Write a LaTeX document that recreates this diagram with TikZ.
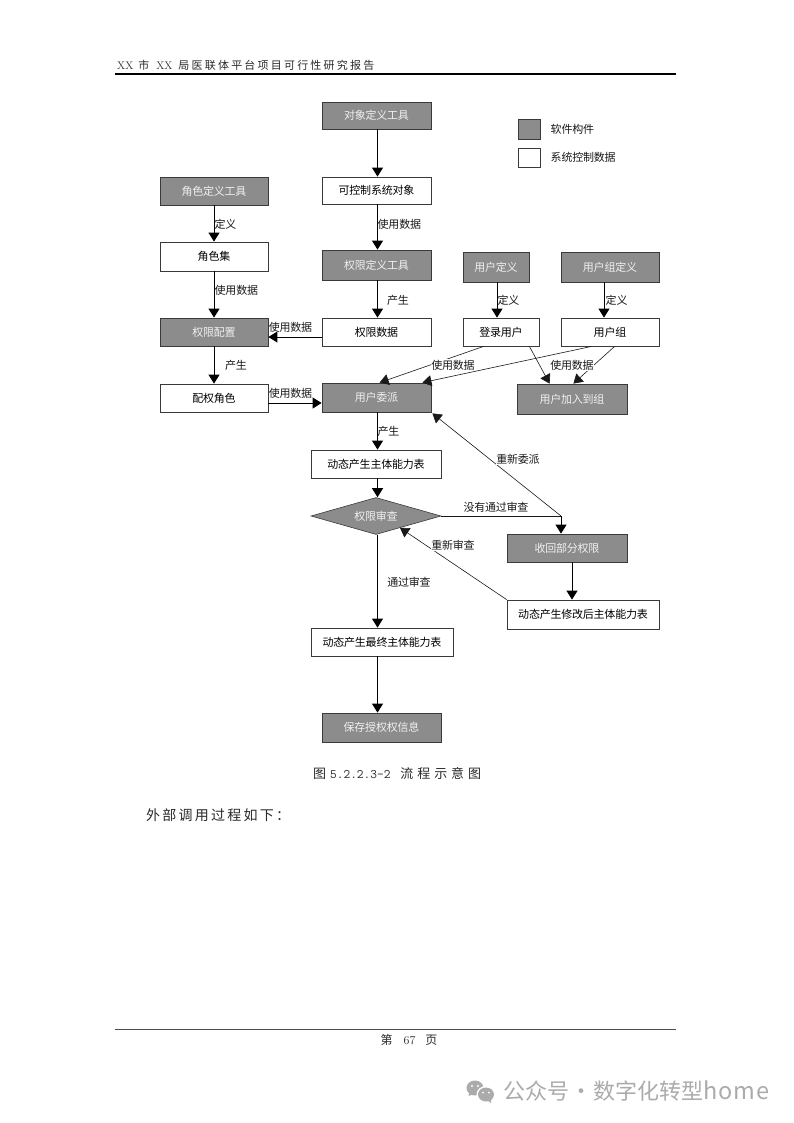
\documentclass[tikz,border=0pt]{standalone}
\usepackage{fontspec}
\usetikzlibrary{arrows.meta,calc,shapes.geometric}
\newfontfamily\cjk{Noto Sans CJK SC}
\newfontfamily\cjkwide[LetterSpace=20]{Noto Sans CJK SC}
\newfontfamily\cjkcap[LetterSpace=30]{Noto Sans CJK SC}
\newfontfamily\cjkbody[LetterSpace=16]{Noto Sans CJK SC}
\newfontfamily\cjklabel[LetterSpace=-2]{Noto Sans CJK SC}
\newfontfamily\wmlatin[LetterSpace=4]{Noto Sans CJK SC}
\definecolor{boxgrey}{HTML}{8C8C8C}
\definecolor{edgegrey}{HTML}{3A3A3A}
\definecolor{txtgrey}{HTML}{F0F0F0}
\definecolor{wm}{HTML}{ABABAB}
\definecolor{pagetxt}{HTML}{2A2A2A}
\tikzset{
  wh/.style 2 args={minimum width=#1pt,minimum height=#2pt},
  basebox/.style={draw=edgegrey,line width=0.8pt,inner sep=0pt,font=\fontsize{11}{11}\selectfont\cjklabel},
  softbox/.style={basebox,fill=boxgrey,text=txtgrey},
  databox/.style={basebox,fill=white,text=black},
  link/.style={draw=black,line width=1pt,-{Triangle[length=9pt,width=11pt]}},
  thinlink/.style={draw=black!90,line width=0.6pt,-{Triangle[length=9pt,width=11pt]}},
  plainlink/.style={draw=black!90,line width=0.8pt},
  lab/.style={font=\fontsize{11}{11}\selectfont\cjklabel,inner sep=0.5pt,text=black!90},
  labw/.style={lab,fill=white},
  pagetext/.style={text=pagetxt,inner sep=0pt},
}
\begin{document}
\begin{tikzpicture}[x=1pt,y=-1pt]
\useasboundingbox[fill=white] (0,0) rectangle (794,1123);

% page furniture
\node[pagetext,anchor=west] (head) at (117,65) {\fontsize{11}{11}\selectfont XX\hspace{5pt}{\cjkwide 市}\hspace{7pt}XX\hspace{6pt}{\cjkwide 局医联体平台项目可行性研究报告}};
\coordinate (hl) at (115,74.5);
\coordinate (hr) at (676,74.5);
\draw[line width=2pt,black] (hl) -- (hr);
\coordinate (fl) at (115,1029.5);
\coordinate (fr) at (676,1029.5);
\draw[line width=0.7pt,black!70] (fl) -- (fr);
\node[pagetext] (foot) at (409,1040) {\fontsize{12}{12}\selectfont{\cjk 第}\hspace{11pt}67\hspace{10pt}{\cjk 页}};
\node[pagetext,anchor=west] (cap) at (313,773) {\fontsize{13}{13}\selectfont{\cjkcap 图}\hspace{4pt}{\ttfamily\addfontfeature{LetterSpace=26}5.2.2.3-2}\hspace{10pt}{\cjkcap 流程示意图}};
\node[pagetext,anchor=west] (body) at (146,815) {\fontsize{14}{14}\selectfont\cjkbody 外部调用过程如下：};

% legend
\node[softbox,wh={22}{20}] (lg1) at (529,129) {};
\node[databox,wh={22}{19}] (lg2) at (529,157.5) {};
\node[lab,anchor=west] (lgt1) at (550,129) {软件构件};
\node[lab,anchor=west] (lgt2) at (550,157) {系统控制数据};

% centre column
\node[softbox,wh={109}{27}] (obj) at (376.5,115.5) {对象定义工具};
\node[databox,wh={109}{27}] (ctl) at (376.5,190.5) {可控制系统对象};
\node[softbox,wh={109}{30}] (def) at (376.5,265) {权限定义工具};
\node[databox,wh={109}{28}] (pdata) at (376.5,332) {权限数据};
\node[softbox,wh={109}{29}] (assign) at (376.5,397.5) {用户委派};
\node[databox,wh={130}{28}] (dyn) at (376,464) {动态产生主体能力表};
\node[diamond,aspect=3.5,inner sep=0pt,draw=edgegrey,line width=0.6pt,fill=boxgrey,text=txtgrey,
      font=\fontsize{11}{11}\selectfont\cjklabel,minimum width=130pt,minimum height=37pt] (audit) at (376,516) {权限审查};
\node[databox,wh={142}{28}] (final) at (382,642) {动态产生最终主体能力表};
\node[softbox,wh={119}{29}] (save) at (381.5,727.5) {保存授权权信息};

% left column
\node[softbox,wh={108}{28}] (roledef) at (214,191) {角色定义工具};
\node[databox,wh={108}{29}] (roles) at (214,256.5) {角色集};
\node[softbox,wh={108}{28}] (cfg) at (214,332) {权限配置};
\node[databox,wh={108}{28}] (rrole) at (214,398) {配权角色};

% right columns
\node[softbox,wh={66}{30}] (udef) at (496,267) {用户定义};
\node[softbox,wh={98}{30}] (gdef) at (610,267) {用户组定义};
\node[databox,wh={76}{28}] (login) at (501,332) {登录用户};
\node[databox,wh={98}{28}] (group) at (610,332) {用户组};
\node[softbox,wh={110}{30}] (join) at (572,399) {用户加入到组};
\node[softbox,wh={120}{28}] (revoke) at (567,548) {收回部分权限};
\node[databox,wh={152}{29}] (mod) at (583,614.5) {动态产生修改后主体能力表};

% guide coordinates
\coordinate (colmain) at (377.5,0);
\coordinate (coluser) at (497,0);
\coordinate (colgrp) at (604,0);
\coordinate (colrev) at (572,0);
\coordinate (rowA) at (0,337);
\coordinate (rowB) at (0,403);
\coordinate (fork) at (561,516);

% vertical links
\draw[link] (obj.south -| colmain) -- (ctl.north -| colmain);
\draw[link] (ctl.south -| colmain) -- (def.north -| colmain);
\draw[link] (def.south -| colmain) -- (pdata.north -| colmain);
\draw[link] (assign.south -| colmain) -- (dyn.north -| colmain);
\draw[link] (dyn.south -| colmain) -- (audit.north -| colmain);
\draw[link] (audit.south -| colmain) -- (final.north -| colmain);
\draw[link] (final.south -| colmain) -- (save.north -| colmain);
\draw[link] (roledef) -- (roles);
\draw[link] (roles) -- (cfg);
\draw[link] (cfg) -- (rrole);
\draw[link] (udef.south -| coluser) -- (login.north -| coluser);
\draw[link] (gdef.south -| colgrp) -- (group.north -| colgrp);
\draw[link] (revoke.south -| colrev) -- (mod.north -| colrev);
\draw[link] (pdata.west |- rowA) -- (cfg.east |- rowA);
\draw[link] (rrole.east |- rowB) -- (assign.west |- rowB);

% diagonal links
\draw[thinlink] ($(login.south west)+(21,0)$) -- ($(assign.north west)+(58,0)$);
\draw[thinlink] ($(group.south west)+(31,0)$) -- ($(assign.north east)+(-9,0)$);
\draw[thinlink] ($(login.south east)+(-10,0)$) -- ($(join.north west)+(33,0)$);
\draw[thinlink] ($(group.south west)+(54,0)$) -- ($(join.north east)+(-54,0)$);
\draw[plainlink] (audit.east) -- (fork);
\draw[link] (fork) -- (revoke.north -| fork);
\draw[thinlink] (fork) -- ($(assign.south east)+(1,1)$);
\draw[thinlink] (mod.north west) -- ($(audit.south)+(24,-7)$);

% labels
\node[lab,anchor=west] (l1) at (377,224) {使用数据};
\node[lab,anchor=west] (l2) at (214,224) {定义};
\node[lab,anchor=west] (l3) at (214,290) {使用数据};
\node[lab] (l4) at (398,300) {产生};
\node[lab] (l5) at (290.5,327) {使用数据};
\node[lab] (l6) at (236,365) {产生};
\node[lab] (l7) at (290.5,393) {使用数据};
\node[lab,anchor=west] (l8) at (497,300) {定义};
\node[lab,anchor=west] (l9) at (605,300) {定义};
\node[labw] (l10) at (453,365) {使用数据};
\node[labw] (l11) at (572,365) {使用数据};
\node[lab,anchor=west] (l12) at (377,431) {产生};
\node[labw] (l13) at (518,459) {重新委派};
\node[lab] (l14) at (496,507) {没有通过审查};
\node[labw] (l15) at (453,545) {重新审查};
\node[lab] (l16) at (409,582) {通过审查};

% watermark
\fill[wm] (475,1088) ellipse (8.5pt and 7.5pt);
\fill[wm] (468.5,1096) -- (470,1091) -- (474,1094) -- cycle;
\fill[white] (486,1094.5) ellipse (9.5pt and 8.5pt);
\fill[wm] (486,1094.5) ellipse (8pt and 7pt);
\fill[wm] (491,1103) -- (487,1100) -- (491,1098) -- cycle;
\fill[white] (472,1086) circle (1.2pt) (478,1086) circle (1.2pt) (483,1092.5) circle (1pt) (489,1092.5) circle (1pt);
\node[text=wm,anchor=west,inner sep=0pt] (wmark) at (503,1091) {\fontsize{22}{22}\selectfont\cjk 公众号\hspace{1pt}·\hspace{1pt}数字化转型{\fontsize{23.5}{23.5}\selectfont\wmlatin home}};
\end{tikzpicture}
\end{document}
